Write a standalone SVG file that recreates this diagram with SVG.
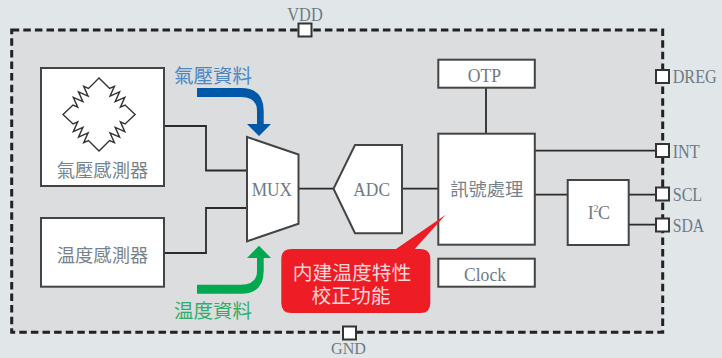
<svg xmlns="http://www.w3.org/2000/svg" width="722" height="358" viewBox="0 0 722 358">
<style>
.b{fill:#fff;stroke:#444;stroke-width:2}
.c{fill:none;stroke:#2b2b2b;stroke-width:1.8}
.p{fill:#fff;stroke:#333;stroke-width:2}
text{font-family:"Noto Sans CJK TC","Liberation Serif",serif;fill:#76828b;font-size:18.3px;text-anchor:middle}
.l{font-family:"Liberation Serif","Noto Sans CJK TC",serif;font-size:19px;text-anchor:start;fill:#6d7a84}
.s{font-family:"Liberation Serif",serif;font-size:18px;text-anchor:start;fill:#6d7a84}
</style>
<rect width="722" height="358" fill="#e1e6e9"/>
<rect id="chip" x="11.7" y="30" width="651" height="302.300" fill="#dcdddf" stroke="#222" stroke-width="3" stroke-dasharray="7.500 4.100"/>
<g id="connectors">
<path class="c" d="M164 126H206V170.500H247M164 253H206V208H247M298.500 188.700H334M402 188.700H438M486 88V134M535 150.700H656M535 194.700H568M629 194.700H656M629 224.700H656"/>
</g>
<g id="pressure-sensor">
<rect class="b" x="41" y="68" width="123" height="118"/>
<path fill="none" stroke="#333" stroke-width="1.400" d="M99 78L88.500 88.500L83.700 86.400L88.100 96.100L78.500 91.900L82.900 101.600L73.300 97.400L77.700 107.100L73 105L63 114.500L73 124L77.700 121.900L73.300 131.600L82.900 127.400L78.500 137.100L88.100 132.900L83.700 142.600L88.500 140.500L99 151L109.600 140.500L114.400 142.600L110 132.900L119.600 137.100L115.200 127.400L124.800 131.600L120.400 121.900L125.100 124L135.100 114.500L125.100 105L120.400 107.100L124.800 97.400L115.200 101.600L119.600 91.900L110 96.100L114.400 86.400L109.600 88.500Z"/>
<text x="102.500" y="177">氣壓感測器</text>
</g>
<g id="temp-sensor">
<rect class="b" x="41" y="218" width="123" height="68.700"/>
<text x="102.500" y="262">温度感測器</text>
</g>
<g id="mux">
<path class="b" d="M247 137L298.500 154.500V223.700L247 241.300Z"/>
<text class="l" x="251.700" y="196" textLength="40.300" lengthAdjust="spacingAndGlyphs">MUX</text>
</g>
<g id="adc">
<path class="b" d="M355 145H402V233.300H355L333.500 188.700Z"/>
<text class="l" x="353.300" y="196" textLength="36.700" lengthAdjust="spacingAndGlyphs">ADC</text>
</g>
<g id="signal">
<rect class="b" x="438.300" y="133.700" width="96.500" height="111"/>
<text x="486.700" y="196">訊號處理</text>
</g>
<g id="otp">
<rect class="b" x="438.300" y="59.700" width="96.500" height="28"/>
<text class="l" x="467.700" y="82" textLength="33.300" lengthAdjust="spacingAndGlyphs">OTP</text>
</g>
<g id="clock">
<rect class="b" x="438.300" y="258.700" width="96.500" height="28"/>
<text class="l" x="464" y="281.300" textLength="42" lengthAdjust="spacingAndGlyphs">Clock</text>
</g>
<g id="i2c">
<rect class="b" x="567.700" y="180" width="61" height="65"/>
<text class="l" x="587.700" y="219" style="font-size:18px">I<tspan x="593.500" dy="-7" font-size="10">2</tspan><tspan x="598" dy="7">C</tspan></text>
</g>
<g id="pressure-arrow">
<path fill="#0058a8" d="M197 88H241Q263.700 88 263.700 111V124H271L259 136L247 124H257V111Q257 97 241 97H197Z"/>
<text x="213" y="83" style="fill:#4a87c4;font-size:19.500px">氣壓資料</text>
</g>
<g id="temp-arrow">
<path fill="#00a94f" d="M197 293.700H241Q263.700 293.700 263.700 271V258H271L259 245.700L247 258H257V271Q257 284.700 241 284.700H197Z"/>
<text x="213" y="318" style="fill:#2fae6b;font-size:19.500px">温度資料</text>
</g>
<g id="callout">
<path fill="#ee1c25" d="M291.300 249H396L445.700 214.700L414.700 249H420.300Q430.300 249 430.300 259V303Q430.300 313 420.300 313H291.300Q281.300 313 281.300 303V259Q281.300 249 291.300 249Z"/>
<text x="352" y="280" style="fill:#fbd5d5;font-size:19.800px;font-family:'Liberation Serif','Noto Sans CJK TC',serif">内建温度特性</text>
<text x="351" y="303" style="fill:#fbd5d5;font-size:19.800px;font-family:'Liberation Serif','Noto Sans CJK TC',serif">校正功能</text>
</g>
<g id="vdd"><rect class="p" x="298.500" y="23.500" width="13" height="13"/><text class="s" x="287.300" y="20.500" textLength="35.400" lengthAdjust="spacingAndGlyphs">VDD</text></g>
<g id="gnd"><rect class="p" x="343" y="326.500" width="13" height="13"/><text class="s" x="331" y="354.300" textLength="35" lengthAdjust="spacingAndGlyphs" style="font-size:17px">GND</text></g>
<g id="dreg"><rect class="p" x="656" y="70" width="13" height="13"/><text class="s" x="672.700" y="83" textLength="44" lengthAdjust="spacingAndGlyphs">DREG</text></g>
<g id="int"><rect class="p" x="656" y="144" width="13" height="13"/><text class="s" x="672.700" y="157.500" textLength="27" lengthAdjust="spacingAndGlyphs">INT</text></g>
<g id="scl"><rect class="p" x="656" y="187.500" width="13" height="13"/><text class="s" x="672.700" y="201" textLength="29.500" lengthAdjust="spacingAndGlyphs">SCL</text></g>
<g id="sda"><rect class="p" x="656" y="218.500" width="13" height="13"/><text class="s" x="672.700" y="232" textLength="31.500" lengthAdjust="spacingAndGlyphs">SDA</text></g>
</svg>
